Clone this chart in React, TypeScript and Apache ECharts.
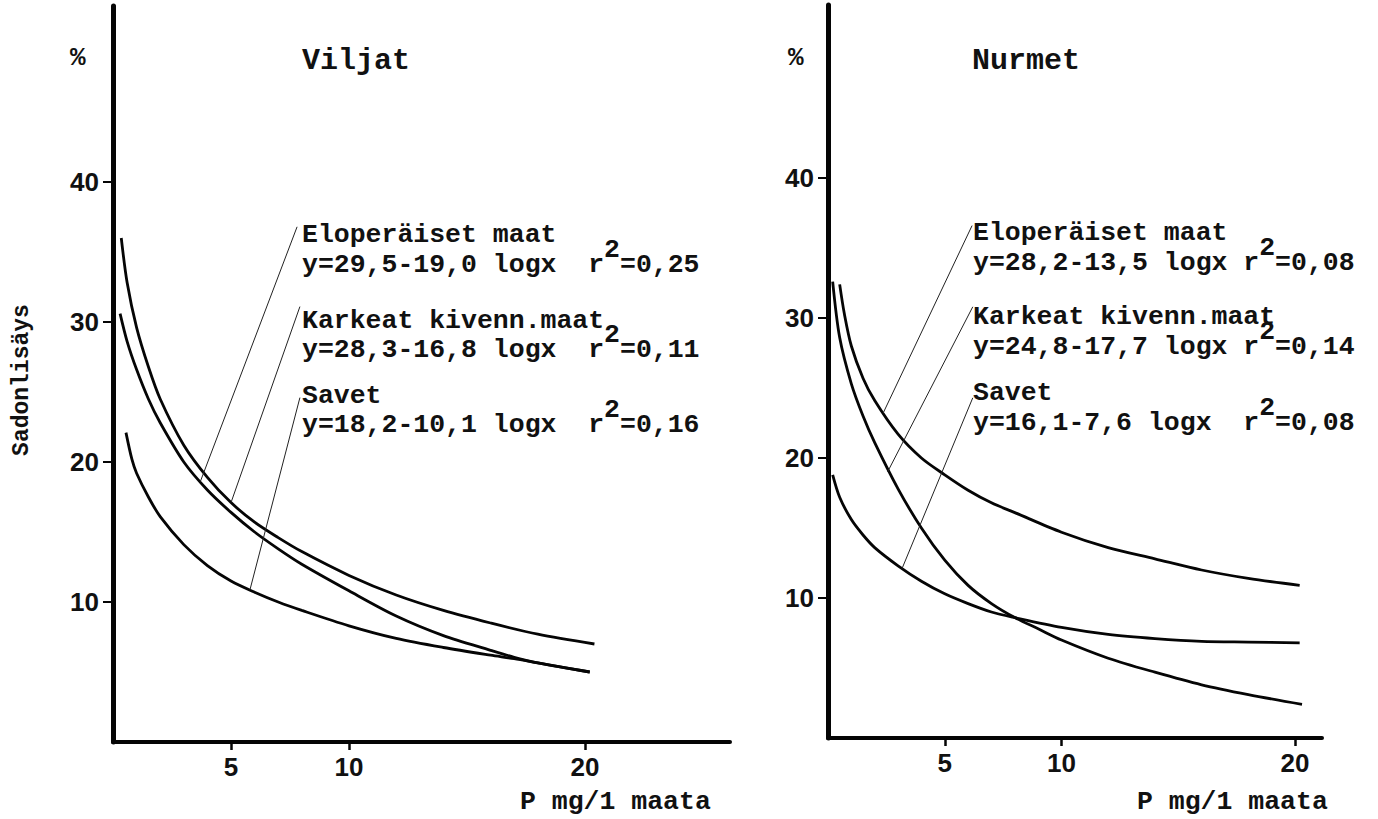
import React, { useEffect, useRef } from "react";
import * as echarts from "echarts";

const W = 1378;
const H = 819;
const MONO = '"Liberation Mono", "Courier New", monospace';
const SANS = '"Liberation Sans", Arial, sans-serif';
const FS = 26.5;
const CW = FS * 0.6;

// tick labels
const xTickValues = [5, 10, 20];
const yTickValues = [10, 20, 30, 40];

// Viljat (left panel)
const vElopX = [0.3, 0.6, 1, 1.5, 2, 3, 4, 5, 6, 7, 8, 10, 12, 14, 16, 17, 18, 20.2];
const vElopY = [30.6, 28.6, 26.6, 24.5, 22.8, 20.0, 18.0, 16.4, 15.0, 13.8, 12.7, 10.8, 9.0, 7.6, 6.55, 6.05, 5.65, 5.0];
const vKarkX = [0.35, 0.6, 1, 1.5, 2, 3, 4, 5, 6, 7, 8, 10, 12, 14, 16, 18, 20.4];
const vKarkY = [36.0, 32.8, 29.6, 26.8, 24.5, 21.2, 18.9, 17.1, 15.7, 14.6, 13.6, 11.9, 10.5, 9.4, 8.5, 7.7, 7.0];
const vSavX = [0.55, 0.8, 1, 1.5, 2, 3, 4, 5, 6, 7, 8, 10, 12, 14, 16, 17, 18, 20.2];
const vSavY = [22.1, 20.2, 19.2, 17.5, 16.1, 14.1, 12.6, 11.5, 10.7, 10.0, 9.4, 8.3, 7.4, 6.75, 6.2, 5.95, 5.65, 5.0];

// Nurmet (right panel)
const nElopX = [0.5, 0.7, 1, 1.5, 2, 3, 4, 5, 6, 7, 8, 10, 12, 14, 16, 18, 20.2];
const nElopY = [32.4, 30.3, 28.0, 25.7, 24.1, 21.7, 20.0, 18.8, 17.7, 16.8, 16.1, 14.7, 13.6, 12.8, 12.0, 11.4, 10.9];
const nKarkX = [0.2, 0.5, 1, 1.5, 2, 3, 4, 5, 6, 7, 8, 9, 10, 12, 14, 16, 18, 20.3];
const nKarkY = [32.6, 28.6, 25.3, 23.0, 21.1, 17.8, 15.0, 12.7, 10.9, 9.6, 8.6, 7.8, 7.0, 5.7, 4.7, 3.8, 3.1, 2.4];
const nSavX = [0.2, 0.5, 1, 1.5, 2, 3, 4, 5, 6, 7, 8, 10, 12, 14, 16, 18, 20.2];
const nSavY = [18.8, 17.2, 15.6, 14.5, 13.6, 12.3, 11.2, 10.3, 9.6, 9.0, 8.6, 7.9, 7.4, 7.1, 6.9, 6.85, 6.8];

// leader lines [text end, curve end]
const vElopLeader = [[7.8, 36.8], [3.7, 18.6]];
const vKarkLeader = [[7.92, 31.1], [5.0, 17.1]];
const vSavLeader = [[7.92, 24.6], [5.8, 10.85]];
const nElopLeader = [[6.17, 36.6], [2.36, 23.2]];
const nKarkLeader = [[6.2, 30.8], [2.55, 19.0]];
const nSavLeader = [[6.2, 24.3], [3.17, 12.1]];

// texts: [name line, formula before superscript, formula after superscript]
const vLabels = [
  ["Eloperäiset maat", "y=29,5-19,0 logx  r", "=0,25"],
  ["Karkeat kivenn.maat", "y=28,3-16,8 logx  r", "=0,11"],
  ["Savet", "y=18,2-10,1 logx  r", "=0,16"],
];
const nLabels = [
  ["Eloperäiset maat", "y=28,2-13,5 logx r", "=0,08"],
  ["Karkeat kivenn.maat", "y=24,8-17,7 logx r", "=0,14"],
  ["Savet", "y=16,1-7,6 logx  r", "=0,08"],
];

function pairs(xs: number[], ys: number[]) {
  return xs.map((x, i) => [x, ys[i]]);
}

function curve(name: string, idx: number, xs: number[], ys: number[]) {
  return {
    name,
    type: "line",
    xAxisIndex: idx,
    yAxisIndex: idx,
    data: pairs(xs, ys),
    smooth: 0.3,
    showSymbol: false,
    lineStyle: { color: "#050505", width: 2.8 },
    silent: true,
  };
}

function leader(idx: number, pts: number[][]) {
  return {
    type: "line",
    xAxisIndex: idx,
    yAxisIndex: idx,
    data: pts,
    showSymbol: false,
    lineStyle: { color: "#222", width: 1 },
    silent: true,
  };
}

function txt(x: number, y: number, text: string, size = FS, extra: any = {}) {
  return {
    type: "text",
    x,
    y,
    silent: true,
    style: {
      text,
      fill: "#111",
      fontFamily: MONO,
      fontWeight: "bold",
      fontSize: size,
      align: "left",
      verticalAlign: "middle",
      ...extra,
    },
  };
}

function labelBlock(x0: number, ys: number[], blocks: string[][], supDy: number) {
  const out: any[] = [];
  blocks.forEach((b, k) => {
    const yName = ys[k * 2];
    const yForm = ys[k * 2 + 1];
    out.push(txt(x0, yName, b[0]));
    out.push(txt(x0, yForm, b[1]));
    const n = b[1].length;
    out.push(txt(x0 + n * CW, yForm - supDy, "2"));
    out.push(txt(x0 + (n + 1) * CW, yForm, b[2]));
  });
  return out;
}

export default function App() {
  const ref = useRef<HTMLDivElement>(null);
  useEffect(() => {
    const chart = echarts.init(ref.current!, null, { renderer: "svg", width: W, height: H });

    const xAxis = (idx: number, max: number) => ({
      type: "value",
      gridIndex: idx,
      min: 0,
      max,
      axisLine: { show: true, onZero: false, lineStyle: { color: "#050505", width: 4 } },
      axisTick: { show: true, customValues: xTickValues, length: 8, lineStyle: { color: "#050505", width: 2.5 } },
      axisLabel: { show: true, customValues: xTickValues, color: "#111", fontFamily: SANS, fontWeight: "bold", fontSize: 26, margin: 12 },
      splitLine: { show: false },
    });
    const yAxis = (idx: number, max: number) => ({
      type: "value",
      gridIndex: idx,
      min: 0,
      max,
      axisLine: { show: true, onZero: false, lineStyle: { color: "#050505", width: 5 } },
      axisTick: { show: true, customValues: yTickValues, length: 10, lineStyle: { color: "#050505", width: 2 } },
      axisLabel: { show: true, customValues: yTickValues, color: "#111", fontFamily: SANS, fontWeight: "bold", fontSize: 26, margin: 14 },
      splitLine: { show: false },
    });

    const vLineY = [235, 265, 321, 350, 396, 425];
    const nLineY = [233, 263, 317, 347, 393, 423];

    chart.setOption({
      animation: false,
      backgroundColor: "#ffffff",
      grid: [
        { left: 113, top: 6, width: 617, height: 736 },
        { left: 828, top: 5, width: 494, height: 733 },
      ],
      xAxis: [xAxis(0, 617 / 23.6), xAxis(1, 494 / 23.35)],
      yAxis: [yAxis(0, 736 / 14), yAxis(1, 733 / 14)],
      series: [
        curve("Viljat Eloperäiset maat", 0, vElopX, vElopY),
        curve("Viljat Karkeat kivenn.maat", 0, vKarkX, vKarkY),
        curve("Viljat Savet", 0, vSavX, vSavY),
        curve("Nurmet Eloperäiset maat", 1, nElopX, nElopY),
        curve("Nurmet Karkeat kivenn.maat", 1, nKarkX, nKarkY),
        curve("Nurmet Savet", 1, nSavX, nSavY),
        leader(0, vElopLeader),
        leader(0, vKarkLeader),
        leader(0, vSavLeader),
        leader(1, nElopLeader),
        leader(1, nKarkLeader),
        leader(1, nSavLeader),
      ],
      graphic: [
        txt(302, 61, "Viljat", 30),
        txt(972, 61, "Nurmet", 30),
        txt(70, 58, "%", 26),
        txt(788, 58, "%", 26),
        txt(520, 802, "P mg/1 maata"),
        txt(1137, 802, "P mg/1 maata"),
        {
          type: "text",
          x: 22,
          y: 380,
          rotation: Math.PI / 2,
          silent: true,
          style: {
            text: "Sadonlisäys",
            fill: "#111",
            fontFamily: MONO,
            fontWeight: "bold",
            fontSize: 23,
            align: "center",
            verticalAlign: "middle",
          },
        },
        ...labelBlock(302, vLineY, vLabels, 15),
        ...labelBlock(973, nLineY, nLabels, 15),
      ],
    });
    return () => chart.dispose();
  }, []);
  return (
    <div
      ref={ref}
      style={{ position: "fixed", left: 0, top: 0, width: W, height: H, background: "#fff" }}
    />
  );
}
